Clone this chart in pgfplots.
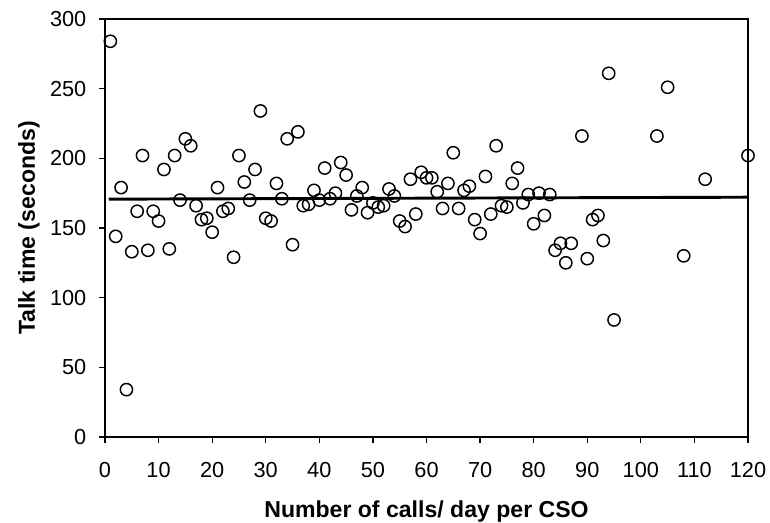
\documentclass[border=0pt]{standalone}
\usepackage{pgfplots}
\pgfplotsset{compat=1.18}
\usepackage{fontspec}
\setmainfont{Liberation Sans}
\begin{document}
\begin{tikzpicture}
\path[use as bounding box] (-78.75pt,-64.5pt) rectangle (498.75pt,327.75pt);
\begin{axis}[
  at={(0pt,0pt)}, anchor=south west,
  scale only axis, width=482.25pt, height=313.5pt,
  xmin=0, xmax=120, ymin=0, ymax=300,
  xtick={0,10,...,120}, ytick={0,50,...,300},
  tick align=outside, tick pos=left,
  major tick length=4.5pt,
  axis line style={line width=0.9pt},
  tick style={line width=0.9pt, black},
  /pgf/number format/assume math mode=true,
  ticklabel style={font=\fontsize{16.3}{18}\selectfont},
  xticklabel style={yshift=-11pt},
  yticklabel style={xshift=-6pt},
  xlabel={\bfseries Number of calls/ day per CSO},
  ylabel={\bfseries Talk time (seconds)},
  label style={font=\fontsize{17.3}{20}\selectfont},
  xlabel style={at={(axis description cs:0.5,-0.1914)}, anchor=base},
  ylabel style={at={(axis description cs:-0.1089,0.5)}, anchor=base},
  clip=false,
]
\addplot[black, line width=2.2pt] coordinates {(0.7,170.7) (120,172.1)};
\addplot[only marks, mark=o, mark size=4.6pt, mark options={black, line width=1.1pt, fill=white}] coordinates {
(1,284) (2,144) (3,179) (4,34) (5,133) (6,162) (7,202) (8,134) (9,162) (10,155)
(11,192) (12,135) (13,202) (14,170) (15,214) (16,209) (17,166) (18,156) (19,157) (20,147)
(21,179) (22,162) (23,164) (24,129) (25,202) (26,183) (27,170) (28,192) (29,234) (30,157)
(31,155) (32,182) (33,171) (34,214) (35,138) (36,219) (37,166) (38,167) (39,177) (40,170)
(41,193) (42,171) (43,175) (44,197) (45,188) (46,163) (47,173) (48,179) (49,161) (50,168)
(51,165) (52,166) (53,178) (54,173) (55,155) (56,151) (57,185) (58,160) (59,190) (60,186)
(61,186) (62,176) (63,164) (64,182) (65,204) (66,164) (67,177) (68,180) (69,156) (70,146)
(71,187) (72,160) (73,209) (74,166) (75,165) (76,182) (77,193) (78,168) (79,174) (80,153)
(81,175) (82,159) (83,174) (84,134) (85,139) (86,125) (87,139) (89,216) (90,128) (91,156)
(92,159) (93,141) (94,261) (95,84) (103,216) (105,251) (108,130) (112,185) (120,202)
};
\end{axis}
\end{tikzpicture}
\end{document}
